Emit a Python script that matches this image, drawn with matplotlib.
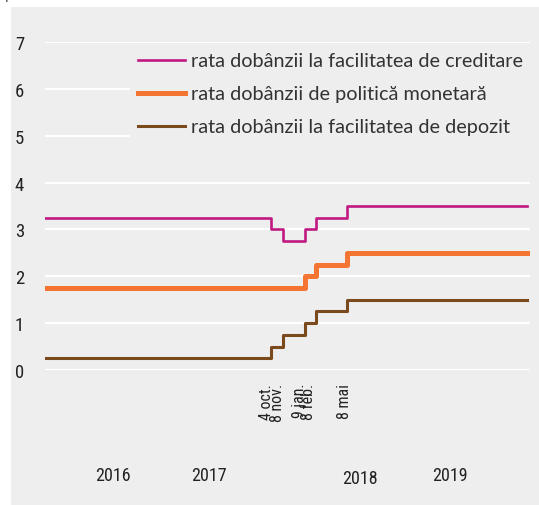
import matplotlib
matplotlib.use("Agg")
import matplotlib.pyplot as plt
import matplotlib.dates as mdates
import matplotlib.transforms as mtrans
from matplotlib import font_manager as fm
from matplotlib.patches import Rectangle
import datetime as dt

# ---- data ----
change_dates = ["2016-01-01", "2017-10-04", "2017-11-08", "2018-01-09", "2018-02-08", "2018-05-08", "2019-10-01"]
lending_rate = [3.25, 3.00, 2.75, 3.00, 3.25, 3.50, 3.50]
policy_rate = [1.75, 1.75, 1.75, 2.00, 2.25, 2.50, 2.50]
deposit_rate = [0.25, 0.50, 0.75, 1.00, 1.25, 1.50, 1.50]
series_names = ["rata dobânzii la facilitatea de creditare",
                "rata dobânzii de politică monetară",
                "rata dobânzii la facilitatea de depozit"]
event_labels = ["4 oct.", "8 nov.", "9 jan.", "8 feb.", "8 mai"]
event_dates = ["2017-10-04", "2017-11-08", "2018-01-09", "2018-02-08", "2018-05-08"]
year_labels = ["2016", "2017", "2018", "2019"]
year_label_dates = ["2016-07-12", "2017-04-11", "2018-06-14", "2019-02-24"]
y_ticks = [0, 1, 2, 3, 4, 5, 6, 7]


def pick(cands):
    for c in cands:
        try:
            fm.findfont(fm.FontProperties(family=c), fallback_to_default=False)
            return c
        except Exception:
            pass
    return "DejaVu Sans"


NARROW = pick(["Liberation Sans Narrow", "Roboto Condensed", "Open Sans Condensed",
               "DejaVu Sans Condensed", "Roboto", "Liberation Sans"])
REGULAR = pick(["Lato", "Open Sans", "Noto Sans", "Roboto", "Liberation Sans"])
TICK_FONT = [NARROW, "DejaVu Sans"]
LEG_FONT = [REGULAR, "DejaVu Sans"]

# ---- style ----
BG = "#eeeeee"
C_LEND = "#c01a82"
C_POL = "#f47432"
C_DEP = "#7b4a1c"
TXT = "#222222"

W, H = 539, 506
fig = plt.figure(figsize=(W / 100, H / 100), dpi=100)
fig.patch.set_facecolor("white")
fig.patches.append(Rectangle((11 / W, 0), 1 - 11 / W, 1 - 8 / H, transform=fig.transFigure,
                             facecolor=BG, edgecolor="none", zorder=-10))
fig.text(5 / W, 1 + 1 / H, "procente", fontsize=11, color="#555555", va="baseline", ha="left",
         family=LEG_FONT)

ax = fig.add_axes([45 / W, 1 - 371 / H, (530 - 45) / W, (371 - 43) / H])
ax.patch.set_alpha(0)

x = [dt.datetime.strptime(d, "%Y-%m-%d") for d in change_dates]
ax.step(x, lending_rate, where="post", color=C_LEND, lw=1.9, label=series_names[0], zorder=3)
ax.step(x, policy_rate, where="post", color=C_POL, lw=3.6, label=series_names[1], zorder=3)
ax.step(x, deposit_rate, where="post", color=C_DEP, lw=2.2, label=series_names[2], zorder=3)

ax.set_ylim(0, 7)
ax.set_xlim(dt.datetime(2016, 1, 1), dt.datetime(2019, 10, 9))
ax.set_yticks(y_ticks)
ax.set_yticklabels([str(v) for v in y_ticks], family=TICK_FONT, fontsize=13.5, color=TXT)
ax.tick_params(axis="y", length=0, pad=15)
ax.set_xticks([])
ax.grid(axis="y", color="white", lw=1.6, zorder=0)
ax.set_axisbelow(True)
for s in ax.spines.values():
    s.set_visible(False)

# event date labels (rotated) below the axis
offsets = [-5, -6, -6, -7, -3]
for lab, d, off in zip(event_labels, event_dates, offsets):
    xd = mdates.date2num(dt.datetime.strptime(d, "%Y-%m-%d"))
    tr = mtrans.blended_transform_factory(ax.transData, ax.transAxes) + \
        mtrans.ScaledTranslation(off / 100, -13 / 100, fig.dpi_scale_trans)
    ax.text(xd, 0, lab, rotation=90, ha="center", va="top", transform=tr,
            family=TICK_FONT, fontsize=11.5, color=TXT)

# year labels
for lab, d in zip(year_labels, year_label_dates):
    xd = mdates.date2num(dt.datetime.strptime(d, "%Y-%m-%d"))
    ypix = 479 if lab == "2018" else 476
    tr = mtrans.blended_transform_factory(ax.transData, fig.transFigure)
    ax.text(xd, 1 - ypix / H, lab, ha="center", va="center", transform=tr,
            family=TICK_FONT, fontsize=13, color=TXT)


def make_legend(size, spacing_px, top_px):
    em = size * 100 / 72
    lg = ax.legend(loc="upper left", bbox_to_anchor=(130 / W, 1 - top_px / H),
                   bbox_transform=fig.transFigure, frameon=True, facecolor=BG, edgecolor="none",
                   framealpha=1, fancybox=False, handlelength=47 / em,
                   handletextpad=6 / em, labelspacing=spacing_px / em,
                   borderpad=0.4, borderaxespad=0,
                   prop={"family": LEG_FONT, "size": size})
    for t in lg.get_texts():
        t.set_color("#333333")
    return lg


size, spacing_px, top_px = 11.5, 10.0, 45.0
leg = make_legend(size, spacing_px, top_px)
r = fig.canvas.get_renderer()
for _ in range(3):
    fig.canvas.draw()
    texts = leg.get_texts()
    wpx = texts[0].get_window_extent(r).width
    e0 = texts[0].get_window_extent(r)
    e1 = texts[1].get_window_extent(r)
    c0 = H - (e0.y0 + e0.y1) / 2
    c1 = H - (e1.y0 + e1.y1) / 2
    size = size * 331.0 / wpx
    spacing_px += 33.0 - (c1 - c0)
    top_px += 62.0 - c0
    leg.remove()
    leg = make_legend(size, spacing_px, top_px)

fig.savefig("out.png", dpi=100, facecolor=fig.get_facecolor())
